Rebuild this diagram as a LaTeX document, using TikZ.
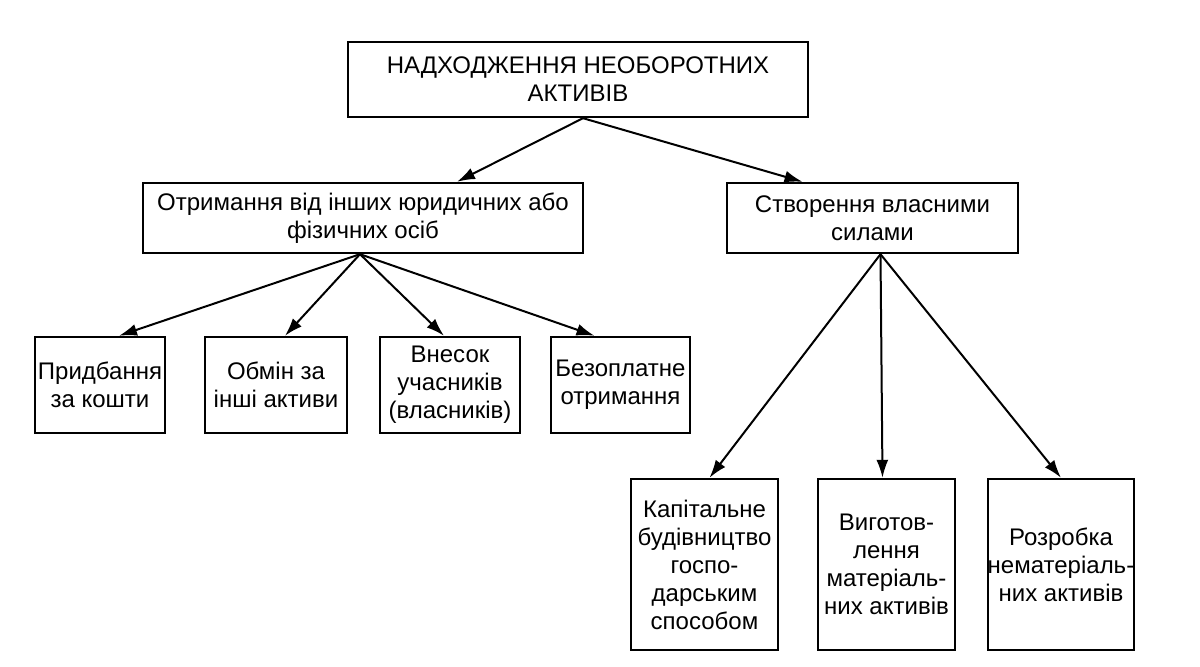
\documentclass[tikz,border=0pt]{standalone}
\usepackage{fontspec}
\setmainfont{Liberation Sans}
\usetikzlibrary{arrows.meta,calc}

\begin{document}
\begin{tikzpicture}[x=0.5pt,y=-0.5pt,
    box/.style={draw,line width=1.2pt,align=center,inner sep=0pt,
        font=\fontsize{12}{14}\selectfont},
    arr/.style={line width=1pt,-{Latex[length=9pt,width=6pt]}}]
    \useasboundingbox (0,0) rectangle (1200,667);

    % levels 1 and 2
    \node[box,minimum width=230pt,minimum height=37.5pt] (total) at (578,79.5) {НАДХОДЖЕННЯ НЕОБОРОТНИХ\\АКТИВІВ};
    \node[box,minimum width=220pt,minimum height=35pt] (receive) at (363,218) {Отримання від інших юридичних або\\фізичних осіб};
    \node[box,minimum width=145.5pt,minimum height=35pt] (own) at (872.5,218) {Створення власними\\силами};

    % level 3, left
    \node[box,minimum width=65pt,minimum height=48pt] (buy) at (100,385) {Придбання\\за кошти};
    \node[box,minimum width=71pt,minimum height=48pt] (swap) at (276,385) {Обмін за\\інші активи};
    \node[box,minimum width=70pt,minimum height=48pt] (share) at (450,385) {Внесок\\учасників\\(власників)};
    \node[box,minimum width=69.5pt,minimum height=48pt] (gift) at (620.5,385) {Безоплатне\\отримання};

    % level 3, right
    \node[box,minimum width=73.5pt,minimum height=85.5pt] (build) at (704.5,564.5) {Капітальне\\будівництво\\госпо-\\дарським\\способом};
    \node[box,minimum width=68.5pt,minimum height=85.5pt] (make) at (886.5,564.5) {Виготов-\\лення\\матеріаль-\\них активів};
    \node[box,minimum width=69pt,minimum height=85.5pt] (develop) at (1061,564.5) {Розробка\\нематеріаль-\\них активів};

    \draw[arr] ($(total.south)+(5,0)$) -- ($(receive.north)+(94,0)$);
    \draw[arr] ($(total.south)+(5,0)$) -- ($(own.north)+(-70,0)$);

    \draw[arr] ($(receive.south)+(-3,0)$) -- ($(buy.north)+(19,0)$);
    \draw[arr] ($(receive.south)+(-3,0)$) -- ($(swap.north)+(9,0)$);
    \draw[arr] ($(receive.south)+(-3,0)$) -- ($(share.north)+(-6,0)$);
    \draw[arr] ($(receive.south)+(-3,0)$) -- ($(gift.north)+(-26,0)$);

    \draw[arr] ($(own.south)+(8,0)$) -- ($(build.north)+(5,0)$);
    \draw[arr] ($(own.south)+(8,0)$) -- ($(make.north)+(-4,0)$);
    \draw[arr] ($(own.south)+(8,0)$) -- (develop.north);
\end{tikzpicture}
\end{document}
